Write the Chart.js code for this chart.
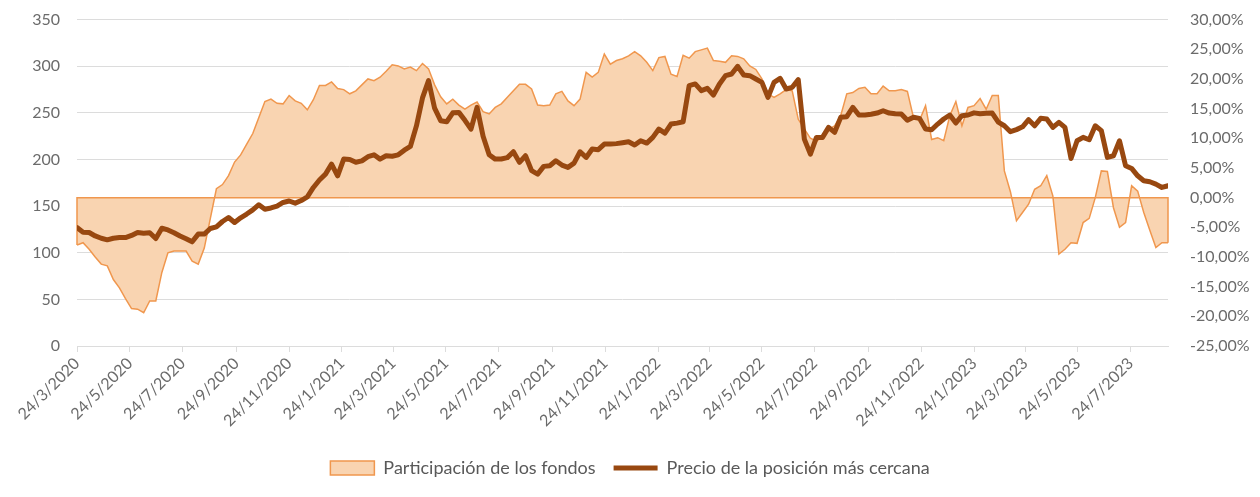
<!DOCTYPE html>
<html lang="es">
<head>
<meta charset="utf-8">
<title>Participación de los fondos vs precio</title>
<script src="https://cdn.jsdelivr.net/npm/chart.js@4.4.1/dist/chart.umd.min.js"></script>
<style>
  html, body { margin: 0; padding: 0; background: #fff; overflow: hidden; }
  #wrap { width: 1260px; height: 504px; margin-top: -7px; position: relative; }
</style>
</head>
<body>
<div id="wrap"><canvas id="chart"></canvas></div>
<script>
// weekly observations, first one on 24/3/2020
const firstWeek = '24/3/2020';

// Participación de los fondos (right axis, %)
const fundPct = [
  -8.0, -7.6, -8.7, -10.0, -11.2, -11.5, -13.8, -15.2, -17.0, -18.7,
  -18.8, -19.4, -17.4, -17.4, -12.6, -9.3, -9.0, -9.0, -9.0, -10.7,
  -11.2, -8.5, -3.5, 1.5, 2.2, 3.7, 6.0, 7.2, 9.0, 10.8,
  13.5, 16.2, 16.6, 15.9, 15.8, 17.2, 16.3, 15.9, 14.8, 16.5,
  18.9, 18.9, 19.5, 18.4, 18.2, 17.5, 18.0, 19.0, 20.0, 19.7,
  20.3, 21.3, 22.4, 22.2, 21.7, 22.0, 21.4, 22.6, 21.7, 19.0,
  17.0, 15.8, 16.6, 15.6, 14.9, 15.6, 16.1, 14.5, 14.1, 15.2,
  15.8, 16.9, 18.0, 19.1, 19.1, 18.3, 15.6, 15.5, 15.6, 17.5,
  17.9, 16.3, 15.5, 16.6, 21.1, 20.3, 21.1, 24.2, 22.5, 23.1,
  23.4, 23.9, 24.6, 23.9, 22.8, 21.4, 23.6, 23.8, 20.8, 20.4,
  24.0, 23.5, 24.6, 24.9, 25.2, 23.1, 23.0, 22.8, 23.9, 23.8,
  23.4, 22.2, 21.6, 20.0, 17.5, 16.9, 17.5, 18.2, 18.0, 13.2,
  11.6, 10.0, 9.5, 10.3, 11.5, 12.1, 13.8, 17.5, 17.7, 18.4,
  18.6, 17.5, 17.5, 18.8, 18.0, 18.0, 18.2, 17.9, 13.5, 13.0,
  15.5, 9.8, 10.1, 9.6, 13.8, 16.2, 12.1, 15.2, 15.5, 16.7,
  14.9, 17.2, 17.2, 4.5, 1.0, -3.9, -2.5, -1.1, 1.4, 2.0,
  3.7, 0.3, -9.5, -8.7, -7.6, -7.7, -4.2, -3.5, 0.0, 4.5,
  4.4, -1.7, -5.0, -4.2, 2.0, 1.1, -2.5, -5.5, -8.4, -7.6,
  -7.6
];

// Precio de la posición más cercana (left axis)
const priceValues = [
  127, 122, 121.7, 118, 115.5, 113.8, 115.5, 116.3, 116.3, 118.5,
  121.7, 120.8, 121.5, 115.2, 126.3, 124.5, 121.5, 118, 115, 111.7,
  120, 120, 126, 127.8, 133.5, 137.8, 132.4, 137.5, 141.5, 146,
  151.5, 146.7, 148, 150, 153.9, 155.5, 153.2, 156, 160, 170,
  178, 184.3, 195.1, 182.5, 200.4, 200, 197, 198.5, 203, 205,
  200.4, 204, 203.5, 205, 210, 214, 236, 266, 284.5, 255,
  241.6, 240.5, 250, 250.5, 242, 232.6, 255.9, 225, 205, 200.4,
  200.5, 202, 208.3, 196.9, 204, 188, 184.3, 192.6, 193.3, 198.6,
  194, 191.5, 196.1, 208.3, 202.2, 211.2, 210.5, 216.5, 216.5, 217,
  218, 219, 215.5, 220.1, 217.6, 223.7, 232.6, 228.3, 238, 239,
  240.5, 279.2, 281, 273.8, 276.3, 269.1, 281, 289.9, 291.7, 299.9,
  290.6, 289.9, 286.3, 282.7, 266.6, 282.7, 287, 275.6, 277.4, 285.6,
  221.9, 205.8, 223.7, 223.7, 234.4, 229.1, 245.2, 245.9, 255.9, 247.7,
  247.7, 248.5, 249.8, 252.3, 249.8, 249, 248.7, 242, 245.2, 244.1,
  232.6, 231.9, 238, 243.4, 247.7, 239.1, 247, 247.7, 250, 249,
  249.5, 249.8, 240, 236.2, 229.8, 232, 235, 242.7, 236.2, 244.1,
  243.4, 234.4, 239.8, 234.4, 201.1, 220.1, 223.7, 221.2, 236.2, 230.9,
  202.2, 204, 220.1, 193.3, 190.4, 182.5, 177.2, 176.1, 173.6, 170,
  171.8
];

// x axis labels (every two months)
const tickLabels = [
  '24/3/2020', '24/5/2020', '24/7/2020', '24/9/2020', '24/11/2020',
  '24/1/2021', '24/3/2021', '24/5/2021', '24/7/2021', '24/9/2021', '24/11/2021',
  '24/1/2022', '24/3/2022', '24/5/2022', '24/7/2022', '24/9/2022', '24/11/2022',
  '24/1/2023', '24/3/2023', '24/5/2023', '24/7/2023'
];

const fundFill = '#f9d4b1';
const fundLine = '#f0974e';
const priceColor = '#984810';
const gridColor = '#dcdcdc';
const textColor = '#6b6b6b';

// --- helpers ---
function dayOf(label) {
  const [d, m, y] = label.split('/').map(Number);
  const [d0, m0, y0] = firstWeek.split('/').map(Number);
  return Math.round((Date.UTC(y, m - 1, d) - Date.UTC(y0, m0 - 1, d0)) / 86400000);
}
const tickDays = tickLabels.map(dayOf);
const lastDay = (fundPct.length - 1) * 7;

const fundPoints = fundPct.map((v, i) => ({ x: i * 7, y: v }));
const pricePoints = priceValues.map((v, i) => ({ x: i * 7, y: v }));

// Excel closes the area polygon: baseline at 0% and both ends
const areaEdges = {
  id: 'areaEdges',
  afterDatasetDraw(chart, args) {
    if (args.index !== 0) return;
    const pts = args.meta.data;
    const zero = chart.scales.y1.getPixelForValue(0);
    const first = pts[0], last = pts[pts.length - 1];
    const ctx = chart.ctx;
    ctx.save();
    ctx.strokeStyle = fundLine;
    ctx.lineWidth = 1.5;
    ctx.beginPath();
    ctx.moveTo(first.x, first.y);
    ctx.lineTo(first.x, zero);
    ctx.lineTo(last.x, zero);
    ctx.lineTo(last.x, last.y);
    ctx.stroke();
    ctx.restore();
  }
};

Chart.defaults.font.family = 'Lato, "Open Sans", sans-serif';
Chart.defaults.font.size = 16;
Chart.defaults.color = textColor;

new Chart(document.getElementById('chart'), {
  type: 'line',
  data: {
    datasets: [
      {
        label: 'Participación de los fondos',
        data: fundPoints,
        yAxisID: 'y1',
        borderColor: fundLine,
        backgroundColor: fundFill,
        borderWidth: 1.5,
        fill: 'origin',
        pointRadius: 0,
        pointStyle: 'rect',
        tension: 0,
        order: 2
      },
      {
        label: 'Precio de la posición más cercana',
        data: pricePoints,
        yAxisID: 'y',
        borderColor: priceColor,
        backgroundColor: priceColor,
        borderWidth: 5,
        borderCapStyle: 'round',
        borderJoinStyle: 'round',
        fill: false,
        pointRadius: 0,
        pointStyle: 'line',
        tension: 0,
        order: 1
      }
    ]
  },
  options: {
    responsive: true,
    maintainAspectRatio: false,
    animation: false,
    layout: { padding: { top: 4, right: 0, left: 0, bottom: 10 } },
    plugins: {
      legend: {
        position: 'bottom',
        labels: {
          usePointStyle: true,
          pointStyleWidth: 44,
          boxWidth: 44,
          boxHeight: 14,
          padding: 18,
          color: '#595959',
          font: { size: 18 },
          sort: (a, b) => a.datasetIndex - b.datasetIndex
        }
      },
      tooltip: { enabled: false }
    },
    scales: {
      x: {
        type: 'linear',
        min: 0,
        max: lastDay,
        afterBuildTicks: s => { s.ticks = tickDays.map(v => ({ value: v })); },
        afterFit: s => { s.height = 95; },
        ticks: {
          autoSkip: false,
          minRotation: 45,
          maxRotation: 45,
          padding: 2,
          callback: v => tickLabels[tickDays.indexOf(v)] || ''
        },
        grid: { display: true, drawOnChartArea: false, drawTicks: true, tickLength: 6, color: gridColor },
        border: { display: true, color: gridColor }
      },
      y: {
        position: 'left',
        min: 0,
        max: 350,
        afterFit: s => { s.width = 77; },
        ticks: { stepSize: 50, padding: 17 },
        grid: { color: gridColor, drawTicks: false },
        border: { display: false }
      },
      y1: {
        position: 'right',
        min: -25,
        max: 30,
        afterFit: s => { s.width = 92; },
        ticks: {
          stepSize: 5,
          padding: 14,
          callback: v => v.toFixed(2).replace('.', ',') + '%'
        },
        grid: { display: false },
        border: { display: false }
      }
    }
  },
  plugins: [areaEdges]
});
</script>
</body>
</html>
